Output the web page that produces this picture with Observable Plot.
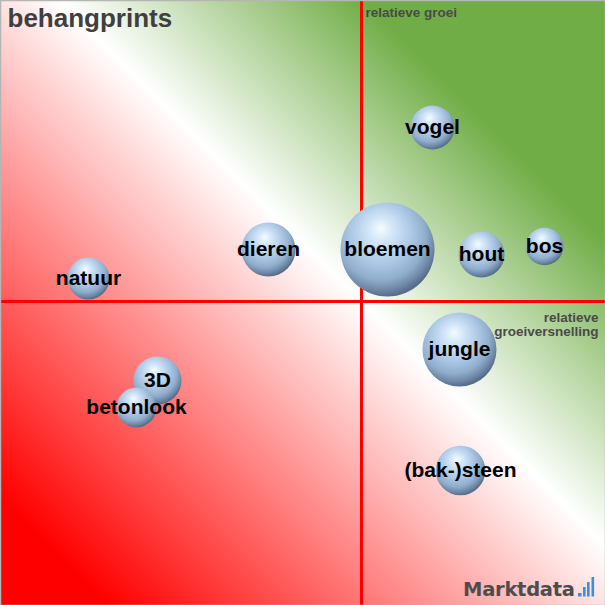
<!DOCTYPE html>
<html><head><meta charset="utf-8">
<script src="https://cdn.jsdelivr.net/npm/d3@7"></script>
<script src="https://cdn.jsdelivr.net/npm/@observablehq/plot@0.6"></script>
<style>html,body{margin:0;padding:0;background:#fff;overflow:hidden}</style>
</head><body><div id="chart"></div>
<script>
// Data
const labels = ["natuur", "dieren", "vogel", "hout", "bos", "jungle", "3D", "betonlook", "(bak-)steen", "bloemen"];
const groeiversnelling = [-2.73, -0.93, 0.71, 1.20, 1.83, 0.98, -2.04, -2.25, 0.99, 0.26]; // x
const groei = [0.23, 0.52, 1.74, 0.47, 0.55, -0.48, -0.79, -1.06, -1.69, 0.52];            // y
const omvang = [20, 33, 22, 24, 16, 62, 26, 18, 28, 100];                                   // bubble size
const title = "behangprints";
const yLabel = "relatieve groei";
const xLabel = "relatieve\ngroeiversnelling";
const brand = "Marktdata";

const data = labels.map((label, i) => ({label, x: groeiversnelling[i], y: groei[i], size: omvang[i]}));
const ns = "http://www.w3.org/2000/svg";

function defs() {
  const d = document.createElementNS(ns, "defs");
  d.innerHTML = `
    <linearGradient id="bg" gradientUnits="userSpaceOnUse" x1="0" y1="605" x2="605" y2="0">
      <stop offset="0.09" stop-color="#ff0000"/>
      <stop offset="0.55" stop-color="#ffffff"/>
      <stop offset="0.80" stop-color="#70ad47"/>
    </linearGradient>
    <radialGradient id="sphere" cx="0.43" cy="0.38" r="0.66" fx="0.43" fy="0.27">
      <stop offset="0" stop-color="#f4fbff"/>
      <stop offset="0.2" stop-color="#d2e6f8"/>
      <stop offset="0.5" stop-color="#abc7e4"/>
      <stop offset="0.72" stop-color="#90adcc"/>
      <stop offset="0.87" stop-color="#6c85a3"/>
      <stop offset="0.95" stop-color="#566b8a"/>
      <stop offset="1" stop-color="#7088a6"/>
    </radialGradient>`;
  return d;
}

function logo(index, scales, values, dims) {
  const W = dims.width, H = dims.height;
  const g = document.createElementNS(ns, "g");
  const t = document.createElementNS(ns, "text");
  t.setAttribute("x", W - 142);
  t.setAttribute("y", H - 9);
  t.setAttribute("text-anchor", "start");
  t.setAttribute("font-family", "DejaVu Sans, sans-serif");
  t.setAttribute("font-weight", "bold");
  t.setAttribute("font-size", "19.5");
  t.setAttribute("fill", "#4d4d4d");
  t.setAttribute("textLength", "112");
  t.textContent = brand;
  g.appendChild(t);
  const blue = "#3d8fd8";
  const parts = [[W - 27, H - 12, 3.5, 3.5], [W - 22, H - 18, 2.6, 9.5], [W - 18, H - 23, 2.6, 14.5], [W - 13.5, H - 28, 2.6, 19.5]];
  for (const [x, y, w, h] of parts) {
    const r = document.createElementNS(ns, "rect");
    r.setAttribute("x", x); r.setAttribute("y", y);
    r.setAttribute("width", w); r.setAttribute("height", h);
    r.setAttribute("fill", blue);
    g.appendChild(r);
  }
  return g;
}

const font = "Liberation Sans, Arial, sans-serif";

const chart = Plot.plot({
  width: 605,
  height: 605,
  margin: 0,
  style: {fontFamily: font, background: "transparent"},
  x: {domain: [-3.61, 2.44], axis: null},
  y: {domain: [-3.04, 3.01], axis: null},
  r: {type: "sqrt", domain: [0, 100], range: [0, 47]},
  marks: [
    defs,
    Plot.frame({fill: "url(#bg)", stroke: "none"}),
    Plot.ruleX([0], {stroke: "#ff0000", strokeWidth: 3}),
    Plot.ruleY([0], {stroke: "#ff0000", strokeWidth: 3}),
    Plot.dot(data, {x: "x", y: "y", r: "size", fill: "url(#sphere)", stroke: "none"}),
    Plot.text(data, {x: "x", y: "y", text: "label", fontSize: 21, fontWeight: "bold", fill: "#000"}),
    Plot.text([title], {text: d => d, frameAnchor: "top-left", textAnchor: "start", lineAnchor: "top",
      dx: 7, dy: 8, fontSize: 26, fontWeight: "bold", fill: "#3f3f3f"}),
    Plot.text([yLabel], {x: () => 0, text: d => d, frameAnchor: "top", textAnchor: "start", lineAnchor: "top",
      dx: 4, dy: 7, fontSize: 13.5, fontWeight: "bold", fill: "#4a4a4a"}),
    Plot.text([xLabel], {y: () => 0, text: d => d, frameAnchor: "right", textAnchor: "end", lineAnchor: "top",
      dx: -7, dy: 10, lineHeight: 1.08, fontSize: 13.5, fontWeight: "bold", fill: "#4a4a4a"}),
    logo,
    Plot.frame({stroke: "#b5b5b5", strokeWidth: 1.5})
  ]
});
document.getElementById("chart").appendChild(chart);
</script>
</body></html>
